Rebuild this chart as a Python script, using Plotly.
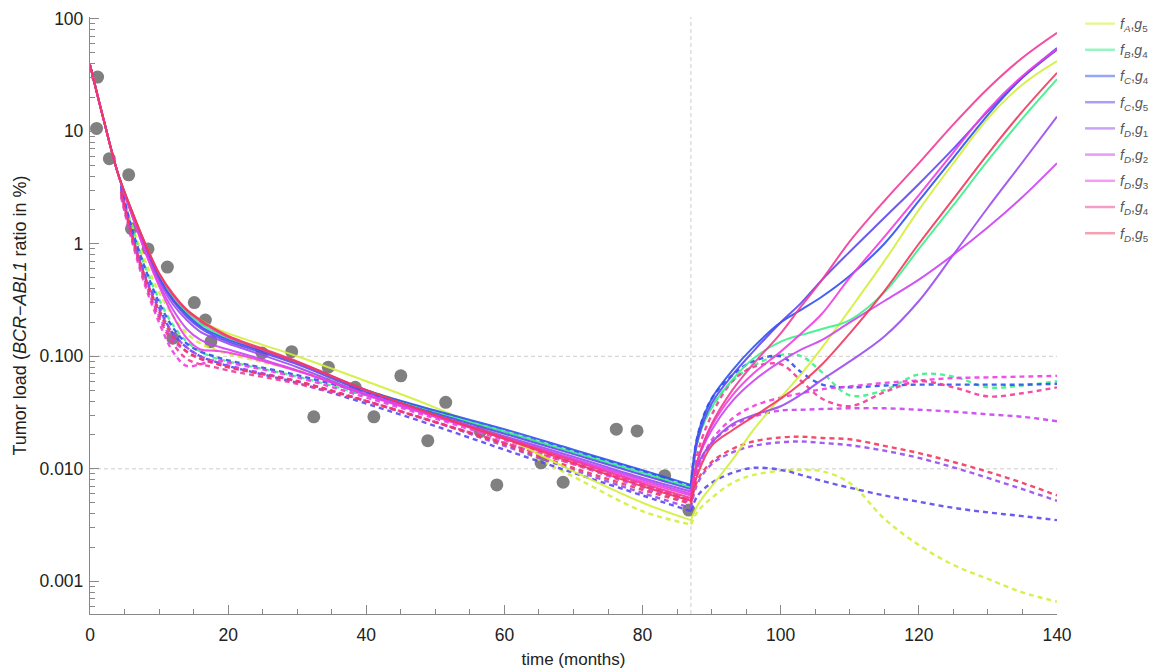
import plotly.graph_objects as go

# ---------------- data ----------------
series_names = ["<i>f</i><sub><i>A</i></sub>,<i>g</i><sub>5</sub>",
                "<i>f</i><sub><i>B</i></sub>,<i>g</i><sub>4</sub>",
                "<i>f</i><sub><i>C</i></sub>,<i>g</i><sub>4</sub>",
                "<i>f</i><sub><i>C</i></sub>,<i>g</i><sub>5</sub>",
                "<i>f</i><sub><i>D</i></sub>,<i>g</i><sub>1</sub>",
                "<i>f</i><sub><i>D</i></sub>,<i>g</i><sub>2</sub>",
                "<i>f</i><sub><i>D</i></sub>,<i>g</i><sub>3</sub>",
                "<i>f</i><sub><i>D</i></sub>,<i>g</i><sub>4</sub>",
                "<i>f</i><sub><i>D</i></sub>,<i>g</i><sub>5</sub>"]

line_colors = ["#d2f03a", "#3ef08a", "#2f52ee", "#5b4af2", "#9a4cf0",
               "#cc44f2", "#f23ce2", "#f23c98", "#f2385e"]
legend_colors = ["#e6f79a", "#96f5c0", "#96a6f5", "#a99ff7", "#caa2f7",
                 "#e39cf7", "#f79cef", "#f79cc8", "#f7a0b2"]

# measured data points
data_t = [1.1, 0.95, 2.8, 5.6, 6.0, 8.4, 11.2, 12.0, 15.1, 16.7, 17.5, 24.9, 29.2,
          32.4, 34.5, 38.4, 41.1, 45.0, 48.9, 51.5, 56.5, 58.9, 65.3, 68.5,
          76.2, 79.2, 83.2, 86.7]
data_y = [30.3, 10.6, 5.7, 4.1, 1.36, 0.90, 0.62, 0.145, 0.30, 0.21, 0.135, 0.107, 0.11,
          0.029, 0.080, 0.053, 0.029, 0.067, 0.0178, 0.039, 0.0215, 0.0072, 0.0113, 0.0076,
          0.0225, 0.0217, 0.0087, 0.0043]

# phase 1 (therapy) model curves
t_solid1 = [0, 2, 4, 6, 8, 10, 12, 14, 16, 18, 20, 30, 40, 50, 60, 70, 80, 87]
solid1 = [
    [39, 12.5, 4.3, 2.0, 1.0, 0.54, 0.35, 0.26, 0.21, 0.18, 0.16, 0.10, 0.06, 0.035, 0.019, 0.0095, 0.005, 0.0035],
    [39, 12.5, 4.3, 2.0, 0.98, 0.52, 0.33, 0.245, 0.195, 0.165, 0.145, 0.088, 0.05, 0.032, 0.0215, 0.014, 0.0092, 0.0068],
    [39, 12.5, 4.3, 1.95, 0.95, 0.50, 0.32, 0.235, 0.185, 0.158, 0.14, 0.088, 0.05, 0.033, 0.0225, 0.0148, 0.0097, 0.0072],
    [39, 12.5, 4.3, 1.9, 0.93, 0.49, 0.31, 0.225, 0.178, 0.152, 0.135, 0.085, 0.048, 0.031, 0.0205, 0.0135, 0.0088, 0.0066],
    [39, 12.5, 4.3, 1.9, 0.90, 0.47, 0.29, 0.21, 0.165, 0.145, 0.13, 0.08, 0.046, 0.03, 0.0195, 0.0128, 0.0083, 0.0063],
    [39, 12.5, 4.3, 1.85, 0.86, 0.44, 0.26, 0.175, 0.14, 0.125, 0.115, 0.075, 0.045, 0.029, 0.019, 0.0123, 0.008, 0.006],
    [39, 12.5, 4.3, 1.85, 0.84, 0.42, 0.23, 0.145, 0.115, 0.112, 0.108, 0.074, 0.046, 0.029, 0.0185, 0.012, 0.0077, 0.0058],
    [39, 12.5, 4.3, 2.0, 1.0, 0.54, 0.35, 0.255, 0.205, 0.172, 0.148, 0.088, 0.05, 0.03, 0.019, 0.0118, 0.0074, 0.0055],
    [39, 12.5, 4.3, 2.0, 1.0, 0.55, 0.36, 0.26, 0.21, 0.176, 0.152, 0.09, 0.05, 0.03, 0.0185, 0.0113, 0.007, 0.0052],
]

t_dash1 = [4.5, 6, 8, 10, 12, 14, 16, 18, 20, 30, 40, 50, 60, 70, 80, 87]
dash1 = [
    [3.0, 1.5, 0.70, 0.37, 0.23, 0.16, 0.13, 0.115, 0.105, 0.075, 0.05, 0.031, 0.017, 0.0085, 0.0042, 0.0032],
    [3.1, 1.45, 0.62, 0.32, 0.19, 0.135, 0.11, 0.097, 0.09, 0.066, 0.045, 0.031, 0.021, 0.014, 0.0092, 0.0068],
    [3.3, 1.4, 0.60, 0.30, 0.18, 0.13, 0.11, 0.10, 0.092, 0.068, 0.047, 0.032, 0.0215, 0.0143, 0.0095, 0.007],
    [3.2, 1.3, 0.52, 0.27, 0.16, 0.12, 0.10, 0.09, 0.082, 0.058, 0.038, 0.024, 0.0148, 0.0092, 0.0058, 0.0042],
    [3.0, 1.25, 0.50, 0.26, 0.16, 0.12, 0.10, 0.09, 0.083, 0.06, 0.04, 0.026, 0.016, 0.0098, 0.0061, 0.0045],
    [2.8, 1.2, 0.46, 0.23, 0.14, 0.11, 0.095, 0.087, 0.08, 0.06, 0.04, 0.026, 0.017, 0.011, 0.0068, 0.005],
    [2.6, 1.1, 0.42, 0.20, 0.11, 0.082, 0.085, 0.092, 0.088, 0.065, 0.043, 0.028, 0.018, 0.0115, 0.0073, 0.0053],
    [2.7, 1.15, 0.45, 0.22, 0.13, 0.095, 0.085, 0.08, 0.075, 0.057, 0.04, 0.026, 0.017, 0.011, 0.0072, 0.0052],
    [2.9, 1.25, 0.50, 0.25, 0.15, 0.11, 0.095, 0.087, 0.08, 0.06, 0.04, 0.026, 0.0165, 0.0102, 0.0065, 0.0049],
]

# phase 2 (after therapy stop) model curves
t_phase2 = [87, 88, 90, 93, 96, 100, 103, 106, 110, 115, 120, 125, 130, 135, 140]
solid2 = [
    [0.0035, 0.0048, 0.007, 0.012, 0.022, 0.043, 0.07, 0.12, 0.26, 0.7, 2.0, 5.2, 13, 26, 42],
    [0.0068, 0.018, 0.035, 0.062, 0.095, 0.135, 0.155, 0.175, 0.21, 0.37, 0.9, 2.2, 5.5, 13, 29],
    [0.0072, 0.02, 0.042, 0.075, 0.12, 0.2, 0.26, 0.34, 0.52, 1.0, 2.4, 5.8, 14, 30, 55],
    [0.0066, 0.018, 0.038, 0.068, 0.11, 0.2, 0.3, 0.48, 0.85, 1.7, 3.4, 7, 15, 30, 53],
    [0.0063, 0.011, 0.017, 0.025, 0.03, 0.036, 0.046, 0.062, 0.09, 0.15, 0.31, 0.8, 2.1, 5.3, 13.5],
    [0.006, 0.012, 0.022, 0.04, 0.06, 0.09, 0.115, 0.14, 0.2, 0.31, 0.48, 0.8, 1.4, 2.6, 5.2],
    [0.0058, 0.012, 0.024, 0.045, 0.07, 0.11, 0.16, 0.24, 0.5, 1.15, 2.7, 6.5, 15.5, 31, 54],
    [0.0055, 0.012, 0.025, 0.05, 0.085, 0.16, 0.28, 0.48, 1.05, 2.4, 5.2, 11.5, 24, 45, 75],
    [0.0052, 0.009, 0.016, 0.022, 0.029, 0.042, 0.058, 0.085, 0.16, 0.38, 1.0, 2.5, 6.3, 15, 33],
]
dash2 = [
    [0.0032, 0.0042, 0.0055, 0.0075, 0.0088, 0.0096, 0.0098, 0.0095, 0.0075, 0.0036, 0.0021, 0.0014, 0.00105, 0.0008, 0.00066],
    [0.0068, 0.018, 0.035, 0.06, 0.082, 0.103, 0.10, 0.072, 0.045, 0.05, 0.069, 0.066, 0.053, 0.055, 0.06],
    [0.007, 0.02, 0.042, 0.068, 0.09, 0.10, 0.072, 0.056, 0.053, 0.055, 0.056, 0.056, 0.056, 0.056, 0.057],
    [0.0042, 0.0058, 0.0075, 0.0092, 0.0102, 0.0098, 0.0088, 0.0078, 0.0068, 0.0058, 0.0051, 0.0045, 0.0041, 0.0038, 0.0035],
    [0.0045, 0.0075, 0.011, 0.014, 0.016, 0.0172, 0.0175, 0.017, 0.0162, 0.0145, 0.0125, 0.0103, 0.0083, 0.0066, 0.0052],
    [0.005, 0.01, 0.017, 0.024, 0.029, 0.033, 0.0335, 0.034, 0.0345, 0.0345, 0.0335, 0.0322, 0.0305, 0.029, 0.0265],
    [0.0053, 0.01, 0.018, 0.028, 0.036, 0.043, 0.047, 0.051, 0.054, 0.058, 0.061, 0.064, 0.065, 0.066, 0.067],
    [0.0052, 0.014, 0.03, 0.06, 0.08, 0.085, 0.06, 0.042, 0.036, 0.048, 0.06, 0.053, 0.044, 0.047, 0.053],
    [0.0049, 0.008, 0.0115, 0.015, 0.0175, 0.019, 0.0193, 0.0188, 0.0183, 0.016, 0.0138, 0.0115, 0.0094, 0.0075, 0.0058],
]

x_ticks = [0, 20, 40, 60, 80, 100, 120, 140]
y_ticks = [0.001, 0.01, 0.1, 1, 10, 100]
y_ticklabels = ["0.001", "0.010", "0.100", "1", "10", "100"]
stop_time = 87
ref_levels = [0.1, 0.01]

# ---------------- figure ----------------
FONT = "Liberation Sans, Arial, sans-serif"
fig = go.Figure()

fig.add_trace(go.Scatter(x=data_t, y=data_y, mode="markers",
                         marker=dict(color="#808080", size=13),
                         showlegend=False, hoverinfo="skip"))

dash_pattern = "5px,4px"
for i in range(len(series_names)):
    c = line_colors[i]
    common = dict(mode="lines", showlegend=False, opacity=0.9, hoverinfo="skip")
    fig.add_trace(go.Scatter(x=t_dash1, y=dash1[i],
                             line=dict(color=c, width=2.4, dash=dash_pattern, shape="spline"), **common))
    fig.add_trace(go.Scatter(x=t_phase2, y=dash2[i],
                             line=dict(color=c, width=2.4, dash=dash_pattern, shape="spline"), **common))
for i in range(len(series_names)):
    c = line_colors[i]
    common = dict(mode="lines", showlegend=False, opacity=0.9, hoverinfo="skip")
    fig.add_trace(go.Scatter(x=t_solid1, y=solid1[i],
                             line=dict(color=c, width=2, shape="spline"), **common))
    fig.add_trace(go.Scatter(x=t_phase2, y=solid2[i],
                             line=dict(color=c, width=2, shape="spline"), **common))

# legend entries
for i, nm in enumerate(series_names):
    fig.add_trace(go.Scatter(x=[None], y=[None], mode="lines", name=nm,
                             legendgroup=f"g{i}",
                             line=dict(color=legend_colors[i], width=2.5)))

# reference (grid) lines
for lv in ref_levels:
    fig.add_shape(type="line", xref="paper", x0=0, x1=1, yref="y", y0=lv, y1=lv,
                  line=dict(color="#cccccc", width=1, dash="4px,3px"), layer="below")
fig.add_shape(type="line", xref="x", x0=stop_time, x1=stop_time, yref="paper", y0=0, y1=1,
              line=dict(color="#cccccc", width=1, dash="4px,3px"), layer="below")

minor_y = [m * 10.0 ** e for e in range(-4, 3) for m in range(2, 10)]

# the page body has an 8px margin; size the figure so it fits the 1158x670 window
fig.update_layout(
    width=1150, height=662,
    margin=dict(l=82, r=101, t=9, b=56),
    paper_bgcolor="white", plot_bgcolor="white",
    font=dict(family=FONT, size=15, color="#222222"),
    showlegend=True,
    legend=dict(xref="container", yref="container", x=0.9322, xanchor="left",
                y=1.008, yanchor="top",
                font=dict(family=FONT, size=14, color="#555555"),
                tracegroupgap=5, bgcolor="rgba(0,0,0,0)"),
    xaxis=dict(range=[0, 140], tickvals=x_ticks, ticks="inside", ticklen=9,
               tickcolor="#888888", showline=True, linecolor="#888888", linewidth=1.3,
               showgrid=False, zeroline=False, mirror=False, automargin=False,
               ticklabelstandoff=5,
               tickfont=dict(size=17.5, color="#222222"),
               title=dict(text="time (months)", font=dict(size=17, color="#222222"), standoff=8),
               minor=dict(ticks="inside", ticklen=5, dtick=5, tickcolor="#888888", showgrid=False)),
    yaxis=dict(type="log", range=[-3.29, 2.015], tickvals=y_ticks, ticktext=y_ticklabels,
               ticks="inside", ticklen=9, tickcolor="#888888", showline=True,
               linecolor="#888888", linewidth=1.3, showgrid=False, zeroline=False,
               automargin=False, ticklabelstandoff=2,
               tickfont=dict(size=17.5, color="#222222"),
               title=dict(text="Tumor load (<i>BCR</i>\u2212<i>ABL1</i> ratio in %)",
                          font=dict(size=18, color="#222222"), standoff=8),
               minor=dict(ticks="inside", ticklen=5, tickvals=minor_y, tickcolor="#888888",
                          showgrid=False)),
)

fig.write_html("out.html")
